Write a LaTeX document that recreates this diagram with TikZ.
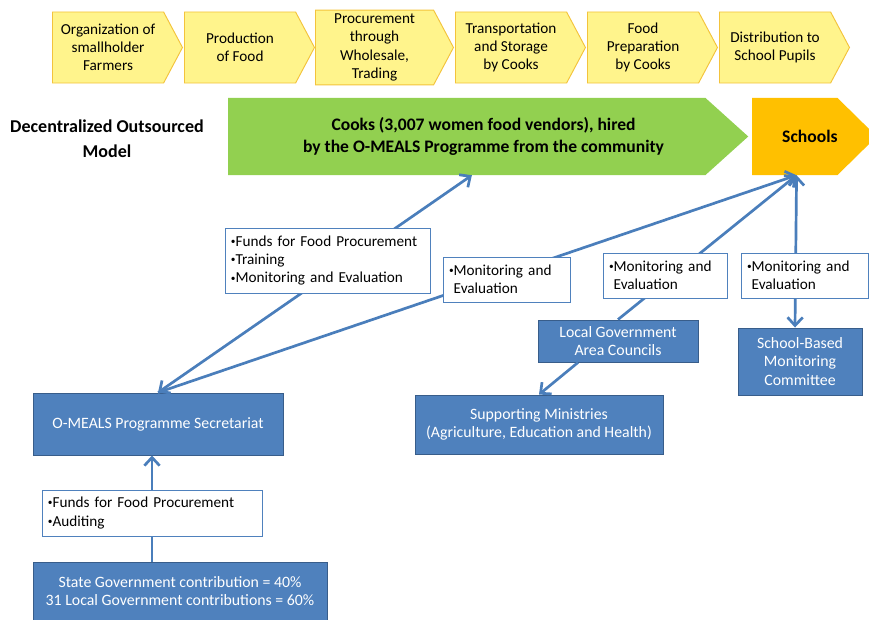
\documentclass[tikz,border=0pt]{standalone}
\usepackage{fontspec}
\setmainfont{Carlito}
\usepackage{xcolor}
\usetikzlibrary{arrows.meta,positioning,shapes.symbols}

\definecolor{chevfill}{HTML}{FFF48C}
\definecolor{chevline}{HTML}{F3C33C}
\definecolor{cookgreen}{HTML}{92D050}
\definecolor{schoolorange}{HTML}{FFC000}
\definecolor{boxblue}{HTML}{4F81BD}
\definecolor{boxline}{HTML}{385D8A}
\definecolor{flowblue}{HTML}{4A7EBB}

\newcommand{\dotmark}{\raisebox{0.25ex}{\fontsize{8}{8}\selectfont\textbullet}}

\tikzset{
  stage/.style={signal, signal to=east, signal from=nowhere, signal pointer angle=124,
    draw=chevline, fill=chevfill, line width=0.8pt, minimum width=3.9cm,
    minimum height=2.13cm, inner xsep=0pt, align=center, anchor=west,
    font=\fontsize{13}{15.5}\selectfont},
  bigarrow/.style={signal, signal to=east, signal from=nowhere, anchor=west,
    minimum height=2.31cm, inner xsep=0pt, align=center,
    font=\bfseries\fontsize{15}{19}\selectfont},
  bluebox/.style={rectangle, draw=boxline, fill=boxblue, line width=0.8pt,
    text=white, align=center, font=\fontsize{13.5}{16}\selectfont},
  notebox/.style={rectangle, draw=boxblue, fill=white, line width=0.6pt,
    align=left, inner xsep=0.18cm, font=\fontsize{13}{15.7}\selectfont},
  flow/.style={draw=flowblue, line width=2.3pt,
    >={Straight Barb[length=7pt,width=13pt]}}
}

\begin{document}
\begin{tikzpicture}[x=0.03cm, y=-0.03cm]
    \useasboundingbox (0,0) rectangle (869,620);

    % stages of the supply chain
    \node[stage] (org) at (52,47.5) {Organization of\\smallholder\\Farmers};
    \node[stage] (prod) at (184,47.5) {Production\\of Food};
    \node[stage, minimum width=4.14cm] (proc) at (315,47.5) {Procurement\\through\\Wholesale,\\Trading};
    \node[stage] (trans) at (455,47.5) {Transportation\\and Storage\\by Cooks};
    \node[stage] (prep) at (587,47.5) {Food\\Preparation\\by Cooks};
    \node[stage] (dist) at (719,47.5) {Distribution to\\School Pupils};

    % model row
    \node[font=\bfseries\fontsize{15.4}{21}\selectfont, align=center] (model) at (107,139)
        {Decentralized Outsourced\\Model};
    \node[bigarrow, fill=cookgreen, signal pointer angle=84, minimum width=15.6cm] (cooks) at (228,136.5)
        {\hspace*{1cm}Cooks (3,007 women food vendors), hired\\\hspace*{1cm}by the O-MEALS Programme from the community};
    \node[bigarrow, fill=schoolorange, signal pointer angle=89, minimum width=3.51cm] (schools) at (752,136.5)
        {\hspace*{0.9cm}Schools};

    % organisations
    \node[bluebox, minimum width=7.5cm, minimum height=1.86cm] (sec) at (158,424) {O-MEALS Programme Secretariat};
    \node[bluebox, minimum width=8.82cm, minimum height=1.74cm] (state) at (180,591)
        {State Government contribution = 40\%\\31 Local Government contributions = 60\%};
    \node[bluebox, minimum width=4.8cm, minimum height=1.26cm] (lga) at (618,341) {Local Government\\Area Councils};
    \node[bluebox, minimum width=7.44cm, minimum height=1.77cm] (min) at (539,424.5)
        {Supporting Ministries\\(Agriculture, Education and Health)};
    \node[bluebox, minimum width=3.72cm, minimum height=2.01cm] (sbmc) at (800,361.5)
        {School-Based\\Monitoring\\Committee};

    % connectors
    \draw[flow, <->] (sec.north) -- ([xshift=0.15cm]cooks.south);
    \draw[flow, ->] (sec.north) -- ([xshift=0.05cm]schools.south);
    \draw[flow, ->] (lga.north) -- ([xshift=0.05cm]schools.south);
    \draw[flow, <->] ([xshift=-0.15cm]sbmc.north) -- ([xshift=0.05cm]schools.south);
    \draw[flow, ->] ([xshift=-1.2cm]lga.south) -- (min.north);
    \coordinate (mid) at (152,513);
    \draw[flow, ->] (mid |- state.north) -- (mid |- sec.south);

    % what flows along the connectors
    \node[notebox, text width=5.79cm, minimum height=1.95cm] (funds) at (327.5,260.5)
        {\dotmark Funds for Food Procurement\\\dotmark Training\\\dotmark Monitoring and Evaluation};
    \node[notebox, text width=3.45cm, minimum height=1.35cm] (me1) at (506.5,279.5)
        {\dotmark Monitoring and\\\phantom{\dotmark}Evaluation};
    \node[notebox, text width=3.36cm, minimum height=1.35cm] (me2) at (665,275.5)
        {\dotmark Monitoring and\\\phantom{\dotmark}Evaluation};
    \node[notebox, text width=3.45cm, minimum height=1.35cm] (me3) at (804.5,275.5)
        {\dotmark Monitoring and\\\phantom{\dotmark}Evaluation};
    \node[notebox, text width=6.24cm, minimum height=1.38cm] (audit) at (mid)
        {\dotmark Funds for Food Procurement\\\dotmark Auditing};
\end{tikzpicture}
\end{document}
